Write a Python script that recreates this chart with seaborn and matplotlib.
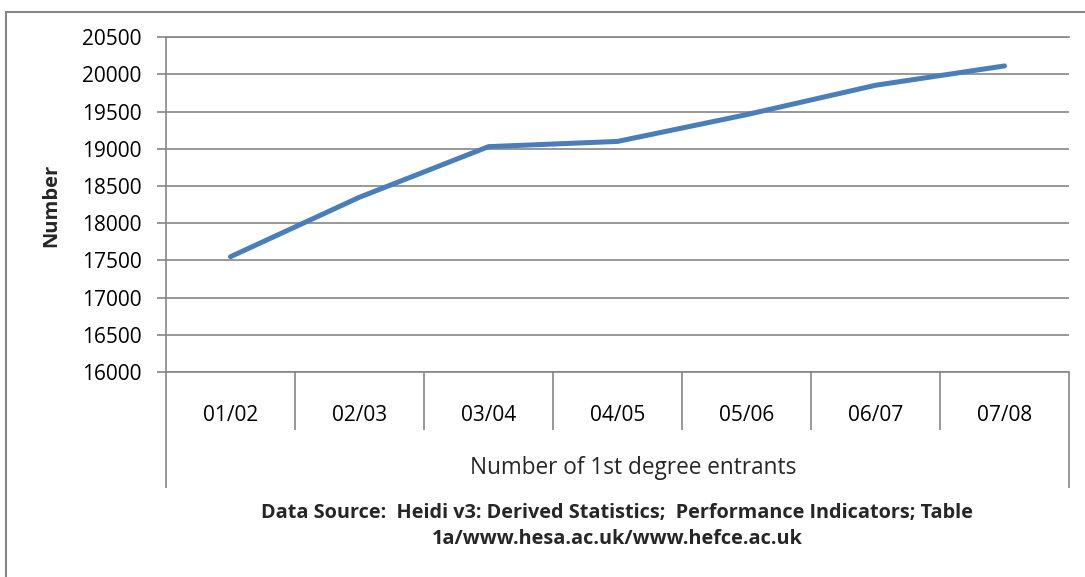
import pandas as pd
import matplotlib.pyplot as plt
import seaborn as sns

# dati
anni = ["01/02", "02/03", "03/04", "04/05", "05/06", "06/07", "07/08"]
iscritti = [17550, 18350, 19030, 19100, 19460, 19855, 20115]
tick_y = [16000, 16500, 17000, 17500, 18000, 18500, 19000, 19500, 20000, 20500]

sns.set_theme(style="white")
plt.rcParams["font.family"] = ["Open Sans", "DejaVu Sans"]

df = pd.DataFrame({"Anno": anni, "Iscritti": iscritti})

W, H = 1085, 577
grigio = "#868686"
fig = plt.figure(figsize=(W / 100, H / 100), dpi=100)
ax = fig.add_axes([166 / W, 1 - 372 / H, (1069 - 166) / W, (372 - 37.3) / H])

sns.lineplot(data=df, x="Anno", y="Iscritti", ax=ax, color="#4A7EBB",
             linewidth=3.6, solid_capstyle="round")
ax.set_xlim(-0.5, 6.5)
ax.set_ylim(16000, 20500)
ax.set_yticks(tick_y)
ax.set_xticks(range(len(anni)), anni)
ax.grid(axis="y", color=grigio, linewidth=1.2)
ax.set_xlabel("")
ax.set_ylabel("")

ax.spines["right"].set_visible(False)
for lato in ["left", "top", "bottom"]:
    ax.spines[lato].set_color(grigio)
    ax.spines[lato].set_linewidth(1.2)

ax.tick_params(axis="y", left=True, direction="out", length=6.5, width=1.2,
               color=grigio, pad=11, labelsize=15, labelcolor="black")
ax.tick_params(axis="x", bottom=False, length=0, pad=23.5, labelsize=15,
               labelcolor="black")

# separatori delle categorie e riquadro dell'asse x
h_ax = 372 - 37.3
ax.vlines([i + 0.5 for i in range(len(anni) - 1)], 0, -58 / h_ax,
          transform=ax.get_xaxis_transform(), clip_on=False, colors=grigio, linewidth=1.2)
ax.vlines([-0.5, len(anni) - 0.5], 0, -116 / h_ax,
          transform=ax.get_xaxis_transform(), clip_on=False, colors=grigio, linewidth=1.2)

fig.text(51.5 / W, 1 - 205 / H, "Number", rotation=90, ha="center", va="center",
         fontsize=14.5, fontweight="bold")
fig.text(633 / W, 1 - 468 / H, "Number of 1st degree entrants", ha="center", va="center",
         fontsize=16.3)
fig.text(617 / W, 1 - 526 / H,
         "Data Source:  Heidi v3: Derived Statistics;  Performance Indicators; Table\n"
         "1a/www.hesa.ac.uk/www.hefce.ac.uk",
         ha="center", va="center", fontsize=14.3, fontweight="bold", linespacing=1.35)

# cornice esterna (lati destro e inferiore fuori dall'immagine)
fig.add_artist(plt.Rectangle((6 / W, -0.1), 1.2, 1 - 12 / H + 0.1, fill=False,
                             edgecolor=grigio, linewidth=1.5, transform=fig.transFigure))

plt.savefig("out.png", dpi=100)
